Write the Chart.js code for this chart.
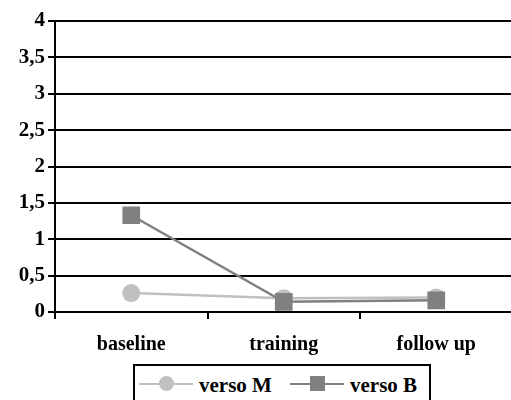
<!DOCTYPE html>
<html>
<head>
<meta charset="utf-8">
<script src="https://cdn.jsdelivr.net/npm/chart.js@4/dist/chart.umd.min.js"></script>
<style>
  html, body { margin: 0; padding: 0; background: #fff; }
  body { width: 511px; height: 400px; overflow: hidden; position: relative; }
  #chart { position: absolute; left: 0; top: 0; }
  .legend {
    position: absolute; left: 133px; top: 364px; width: 298px; height: 40px;
    border: 2px solid #000; box-sizing: border-box; background: #fff;
    font: bold 21px 'Liberation Serif', serif; color: #000;
  }
  .item { position: absolute; top: 4px; height: 30px; line-height: 30px; }
  .icon { position: absolute; top: 17px; height: 2px; width: 54px; }
  .icon i { position: absolute; left: 20px; top: -7px; width: 15px; height: 15px; }
</style>
</head>
<body>
<canvas id="chart" width="525" height="400"></canvas>
<div class="legend">
  <div class="icon" style="left:4px;background:#c0c0c0"><i style="background:#c0c0c0;border-radius:50%"></i></div>
  <div class="item" style="left:64px">verso M</div>
  <div class="icon" style="left:155px;background:#808080"><i style="background:#808080"></i></div>
  <div class="item" style="left:215px">verso B</div>
</div>
<script>
'use strict';

const categories = ['baseline', 'training', 'follow up'];
const versoM = [0.26, 0.19, 0.20];
const versoB = [1.33, 0.14, 0.16];
const yTicks = [0, 0.5, 1, 1.5, 2, 2.5, 3, 3.5, 4];

const font = { family: "'Liberation Serif', serif", weight: 'bold', size: 20 };

new Chart(document.getElementById('chart'), {
  type: 'line',
  data: {
    labels: categories,
    datasets: [
      {
        label: 'verso M',
        data: versoM,
        borderColor: '#c0c0c0',
        backgroundColor: '#c0c0c0',
        borderWidth: 2.5,
        pointStyle: 'circle',
        pointRadius: 9,
        pointBorderWidth: 0,
        order: 1,
      },
      {
        label: 'verso B',
        data: versoB,
        borderColor: '#808080',
        backgroundColor: '#808080',
        borderWidth: 2.5,
        pointStyle: 'rect',
        pointRadius: 12.5,
        pointBorderWidth: 0,
        order: 0,
      },
    ],
  },
  options: {
    responsive: false,
    animation: false,
    layout: { padding: { top: 21, bottom: 36, left: 0, right: 5 } },
    plugins: { legend: { display: false }, tooltip: { enabled: false } },
    scales: {
      x: {
        offset: true,
        afterFit: axis => { axis.height = 52; },
        grid: { offset: true, drawOnChartArea: false, color: '#000', lineWidth: 2, tickLength: 7 },
        border: { display: false },
        ticks: { color: '#000', font, padding: 14 },
      },
      y: {
        min: 0,
        max: 4,
        afterBuildTicks: axis => { axis.ticks = yTicks.map(v => ({ value: v })); },
        afterFit: axis => { axis.width = 55; },
        grid: { color: '#000', lineWidth: 2, tickLength: 7 },
        border: { color: '#000', width: 2 },
        ticks: {
          color: '#000', font: { ...font, size: 21 }, padding: 3,
          callback: v => String(v).replace('.', ','),
        },
      },
    },
  },
});
</script>
</body>
</html>
